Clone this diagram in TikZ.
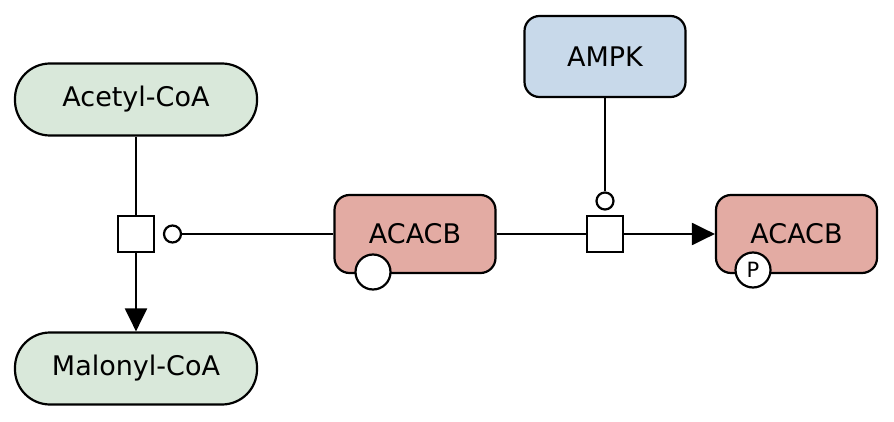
\documentclass[tikz,border=0pt]{standalone}
\usepackage{fontspec}
\setmainfont{DejaVu Sans}
\usetikzlibrary{arrows.meta}
\definecolor{simgreen}{RGB}{217,232,218}
\definecolor{macrored}{RGB}{227,171,163}
\definecolor{ampkblue}{RGB}{200,217,234}
\tikzset{
  lw/.style={line width=2.2pt},
  simple/.style={draw, lw, fill=simgreen, rounded corners=35pt, minimum width=242pt, minimum height=72pt, inner sep=0pt, font=\fontsize{27}{32}\selectfont},
  macro/.style={draw, lw, rounded corners=15pt, minimum width=161pt, minimum height=78pt, inner sep=0pt, font=\fontsize{27}{32}\selectfont},
  procbox/.style={draw, lw, fill=white, minimum size=36pt, inner sep=0pt},
  modcirc/.style={draw, lw, fill=white, circle, minimum size=17pt, inner sep=0pt},
  statevar/.style={draw, lw, fill=white, circle, minimum size=35pt, inner sep=0pt, font=\fontsize{21}{24}\selectfont},
  conn/.style={lw},
  prod/.style={conn, -{Triangle[length=23pt,width=22pt]}}
}
\begin{document}
\begin{tikzpicture}[x=1pt,y=-1pt]
\useasboundingbox (0,0) rectangle (894,422);
\node[simple] (acetyl) at (136,99.5) {Acetyl-CoA};
\node[simple] (malonyl) at (136,368.5) {Malonyl-CoA};
\node[macro, fill=macrored] (acacb1) at (415,234) {ACACB};
\node[macro, fill=macrored] (acacb2) at (796.5,234) {ACACB};
\node[macro, fill=ampkblue, minimum height=81pt] (ampk) at (605,56.5) {AMPK};
\node[procbox] (p1) at (136,234) {};
\node[procbox] (p2) at (605,234) {};
\node[modcirc] (c1) at (172.5,234) {};
\node[modcirc] (c2) at (605,201) {};
\node[statevar] (s1) at (373,272) {};
\node[statevar] (s2) at (753,270) {P};
\draw[conn] (acetyl) -- (p1);
\draw[prod] (p1) -- (malonyl);
\draw[conn] (c1) -- (acacb1);
\draw[conn] (acacb1) -- (p2);
\draw[prod] (p2) -- (acacb2);
\draw[conn] (ampk) -- (c2);
\end{tikzpicture}
\end{document}
